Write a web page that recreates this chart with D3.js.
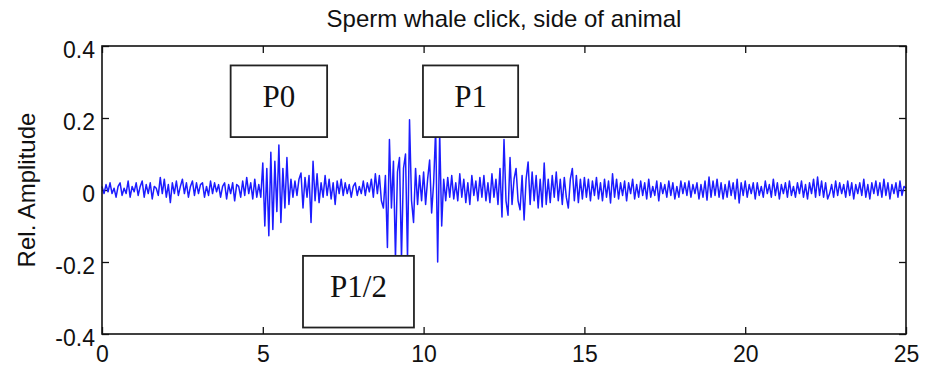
<!DOCTYPE html>
<html>
<head>
<meta charset="utf-8">
<script src="https://cdn.jsdelivr.net/npm/d3@7"></script>
<style>
  body { margin: 0; background: #fff; }
  svg text { font-family: "Liberation Sans", Arial, sans-serif; fill: #111; }
</style>
</head>
<body>
<svg id="chart" width="934" height="370"></svg>
<script>
const title = 'Sperm whale click, side of animal'
const yLabel = 'Rel. Amplitude'
const xTicks = [0, 5, 10, 15, 20, 25]
const yTicks = [-0.4, -0.2, 0, 0.2, 0.4]
const yTickLabels = ['-0.4', '-0.2', '0', '0.2', '0.4']

// one sample every 0.0625 on the time axis (0 .. 25)
const sampleStep = 0.0625
const amplitude = [
  .01,-.01,.015,-.005,.02,-.01,.005,-.02,.01,.02,
  -.015,.005,-.01,.025,-.02,.01,-.005,.02,-.015,.01,
  .025,-.02,.015,-.01,.02,-.025,.01,.005,-.015,.035,
  -.01,.03,-.02,.015,-.035,.02,-.01,.025,-.015,.01,
  .03,-.01,.02,-.02,.01,.025,-.015,.02,-.01,.015,
  .02,-.02,.01,-.015,.025,-.01,.02,-.005,.015,-.02,
  .01,.02,-.025,.015,-.01,.02,-.03,.015,.01,-.02,
  .025,-.015,.035,-.01,.02,-.025,.03,-.02,.015,-.02,
  .075,-.10,.06,-.127,.105,-.11,.08,-.06,.125,-.09,
  .06,-.05,.09,-.04,.03,-.02,.025,-.015,.03,.047,
  -.05,.035,-.02,.04,-.09,.08,-.03,.045,-.035,.02,
  -.02,.04,-.015,.03,-.025,.02,-.04,.025,-.01,.03,
  -.015,.02,-.01,.015,-.02,.01,.02,-.015,.01,-.01,
  .025,-.015,.02,-.005,.03,-.02,.045,-.01,.04,-.03,
  -.05,.04,-.16,.14,-.05,.08,-.19,.05,.09,-.19,
  .06,.10,-.19,.195,-.03,-.09,.06,-.04,.04,-.03,
  .05,-.04,.03,.083,-.064,.02,.17,-.20,.16,-.10,
  .03,-.03,.035,-.02,.04,-.025,.02,-.03,.045,-.02,
  .03,-.035,.02,-.04,.04,-.015,.025,-.03,.035,-.02,
  .04,-.03,.02,-.035,.045,-.02,.03,-.04,.06,-.075,
  .14,-.03,-.07,.09,-.04,.03,.06,-.03,-.055,.04,
  -.083,.03,.078,-.04,.05,-.03,.04,-.05,.03,-.047,
  .075,-.04,.03,-.035,.04,-.02,.05,-.03,.03,-.04,
  .035,-.02,-.05,.03,.06,-.03,.04,-.035,.03,-.025,
  .035,-.02,.03,-.03,.025,-.015,.035,-.025,.02,-.03,
  .03,-.02,.025,-.036,.045,-.02,.03,-.025,.02,-.015,
  .025,-.03,.02,-.01,.03,-.025,.015,-.02,.025,-.015,
  .02,-.025,.03,-.02,.01,-.015,.025,-.03,.02,-.01,
  .015,-.02,.025,-.015,.02,-.025,.01,-.02,.025,-.01,
  .02,-.015,.025,-.02,.015,-.01,.02,-.025,.015,-.02,
  .025,-.028,.036,-.02,.025,-.015,.03,-.02,.02,-.025,
  .015,-.02,.025,-.015,.02,-.025,.03,-.036,.02,-.015,
  .025,-.02,.015,-.01,.02,-.025,.02,-.015,.01,-.02,
  .025,-.01,.015,-.02,.03,-.015,.02,-.025,.015,-.01,
  .02,-.02,.025,-.015,.01,-.02,.02,-.01,.025,-.02,
  .015,-.025,.02,-.01,.03,-.02,.036,-.015,.025,-.02,
  .02,-.025,-.01,.015,-.02,.025,-.015,.02,-.01,.015,
  -.02,.025,-.015,.02,-.025,.015,-.01,.02,-.015,.03,
  -.02,.015,-.025,.02,-.01,.025,-.015,.02,-.02,.03,
  -.015,.02,-.025,.015,-.01,.02,-.02,.025,-.015,.01,
  .005
]

// pulse annotations, in data units
const pulseNames = ['P0', 'P1/2', 'P1']
const pulseT0 = [4.0, 6.25, 9.98]
const pulseT1 = [7.0, 9.7, 12.94]
const pulseTop = [0.346, -0.183, 0.346]
const pulseBottom = [0.147, -0.382, 0.147]

const margin = { top: 46, right: 28, bottom: 36, left: 102 }
const svg = d3.select('svg#chart')
const W = +svg.attr('width') - margin.left - margin.right
const H = +svg.attr('height') - margin.top - margin.bottom

const x = d3.scaleLinear().domain([0, 25]).range([0, W])
const y = d3.scaleLinear().domain([-0.4, 0.4]).range([H, 0])

const g = svg.append('g')
  .attr('transform', `translate(${margin.left},${margin.top})`)

svg.append('text')
  .attr('x', margin.left + W / 2)
  .attr('y', 27)
  .attr('text-anchor', 'middle')
  .style('font-size', '24px')
  .text(title)

svg.append('text')
  .attr('transform', `translate(35,${margin.top + H / 2}) rotate(-90)`)
  .attr('text-anchor', 'middle')
  .style('font-size', '24px')
  .text(yLabel)

// axes, ticks pointing inward
const bottomAxis = g.append('g')
  .attr('transform', `translate(0,${H})`)
  .call(d3.axisBottom(x).tickValues(xTicks).tickSize(-7).tickPadding(12).tickFormat(d3.format('d')))
const topAxis = g.append('g')
  .call(d3.axisTop(x).tickValues(xTicks).tickSize(-7).tickFormat(''))
const leftAxis = g.append('g')
  .call(d3.axisLeft(y).tickValues(yTicks).tickSize(-7).tickPadding(7).tickFormat((d, i) => yTickLabels[i]))
const rightAxis = g.append('g')
  .attr('transform', `translate(${W},0)`)
  .call(d3.axisRight(y).tickValues(yTicks).tickSize(-7).tickFormat(''))

;[bottomAxis, topAxis, leftAxis, rightAxis].forEach(a => {
  a.select('.domain').remove()
  a.selectAll('line').attr('stroke', '#111').attr('stroke-width', 1.3)
  a.selectAll('text').style('font-size', '23px').attr('fill', '#111')
})
leftAxis.selectAll('text').attr('dy', '0.5em')

const line = d3.line()
  .x((d, i) => x(i * sampleStep))
  .y(d => y(d))

g.append('path')
  .datum(amplitude)
  .attr('fill', 'none')
  .attr('stroke', '#1c1cff')
  .attr('stroke-width', 1.5)
  .attr('stroke-linejoin', 'round')
  .attr('d', line)

g.append('rect')
  .attr('width', W)
  .attr('height', H)
  .attr('fill', 'none')
  .attr('stroke', '#111')
  .attr('stroke-width', 1.6)

const pulse = g.selectAll('.pulse')
  .data(pulseNames)
  .enter().append('g')
  .attr('class', 'pulse')

pulse.append('rect')
  .attr('x', (d, i) => x(pulseT0[i]))
  .attr('y', (d, i) => y(pulseTop[i]))
  .attr('width', (d, i) => x(pulseT1[i]) - x(pulseT0[i]))
  .attr('height', (d, i) => y(pulseBottom[i]) - y(pulseTop[i]))
  .attr('fill', '#fff')
  .attr('stroke', '#222')
  .attr('stroke-width', 1.8)

pulse.append('text')
  .attr('x', (d, i) => (x(pulseT0[i]) + x(pulseT1[i])) / 2)
  .attr('y', (d, i) => (y(pulseTop[i]) + y(pulseBottom[i])) / 2)
  .attr('dy', '0.17em')
  .attr('text-anchor', 'middle')
  .style('font-family', '"Liberation Serif", "Times New Roman", serif')
  .style('font-size', '31px')
  .text(d => d)
</script>
</body>
</html>
